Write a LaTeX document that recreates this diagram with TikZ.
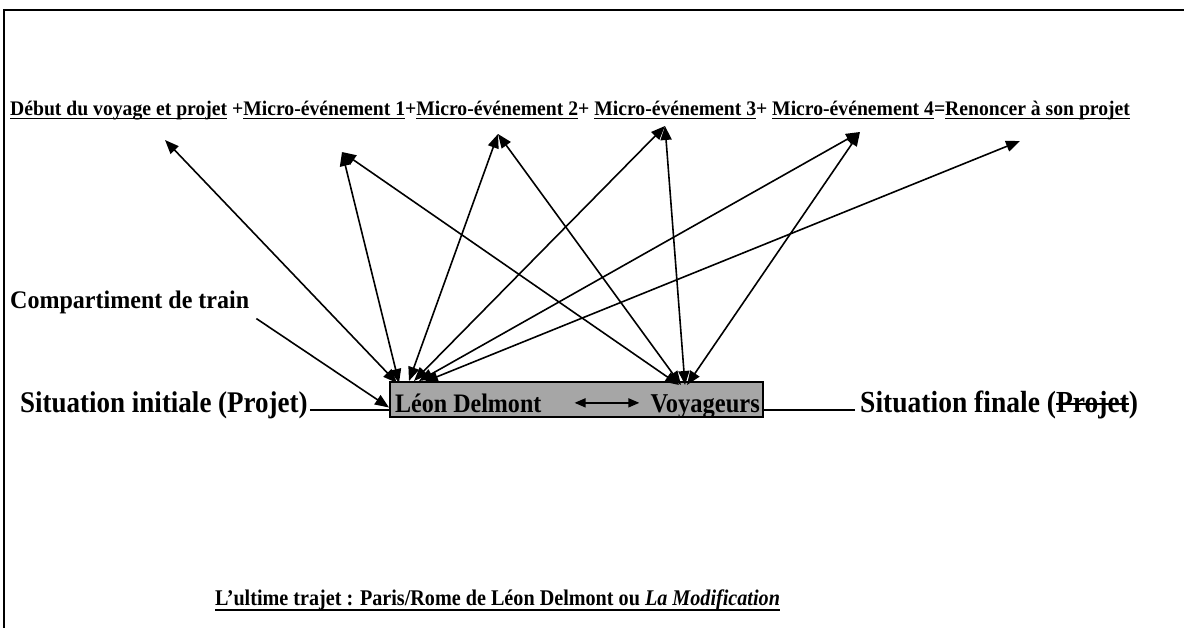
\documentclass[tikz,border=0pt]{standalone}
\usepackage{fontspec}
\setmainfont{Liberation Serif}
\newfontfamily\narrowa[FakeStretch=0.95]{Liberation Serif}
\newfontfamily\narrowb[FakeStretch=0.9]{Liberation Serif}
\usetikzlibrary{arrows.meta}
\definecolor{boxgray}{RGB}{166,166,166}
\tikzset{link/.style={line width=1.6pt, {Triangle[length=14pt,width=11pt]}-{Triangle[length=14pt,width=11pt]}}}
\tikzset{tolink/.style={line width=1.6pt, -{Triangle[length=14pt,width=11pt]}}}
\tikzset{pairlink/.style={line width=1.6pt, {Triangle[length=11pt,width=9pt]}-{Triangle[length=11pt,width=9pt]}}}
\tikzset{label/.style={inner sep=0pt, anchor=base west}}
\newcommand{\ulword}[1]{\setbox0\hbox{#1}\rlap{\rule[-0.15em]{\wd0}{0.065em}}\box0\relax}
\newcommand{\ultitle}[1]{\setbox0\hbox{#1}\rlap{\rule[-0.27em]{\wd0}{0.1em}}\box0\relax}
\newcommand{\strikeword}[1]{\setbox0\hbox{#1}\rlap{\rule[0.27em]{\wd0}{0.06em}}\box0\relax}

\begin{document}
\begin{tikzpicture}[x=1pt, y=-1pt]
            \useasboundingbox (0,0) rectangle (1184,628);
            \draw[line width=2pt] (4,628) -- (4,10) -- (1184,10);
            \node[label, font=\narrowa\bfseries\fontsize{20.7}{23}\selectfont] (plot) at (10,116) {\ulword{Début du voyage et projet} +\ulword{Micro-événement 1}+\ulword{Micro-événement 2}+ \ulword{Micro-événement 3}+ \ulword{Micro-événement 4}=\ulword{Renoncer à son projet}};
            \coordinate (debut) at (165,140);
            \coordinate (micro1) at (342,152);
            \coordinate (micro2) at (498,134);
            \coordinate (micro3) at (665,126);
            \coordinate (micro4) at (860,132);
            \coordinate (renoncer) at (1020,141);
            \node[label, font=\narrowa\bfseries\fontsize{25.3}{28}\selectfont] (comp) at (10,309) {Compartiment de train};
            \node[draw, line width=2pt, fill=boxgray, minimum width=373pt, minimum height=35pt, inner sep=0pt] (box) at (576.5,399.5) {};
            \node[label, font=\narrowb\bfseries\fontsize{26.7}{29}\selectfont] (leon) at (395,412) {Léon Delmont};
            \node[label, anchor=base east, font=\narrowb\bfseries\fontsize{27.2}{29}\selectfont] (voy) at (760,412) {Voyageurs};
            \node[label, font=\narrowb\bfseries\fontsize{30}{33}\selectfont] (init) at (20,413) {Situation initiale (Projet)};
            \node[label, font=\narrowb\bfseries\fontsize{30.6}{33}\selectfont] (fin) at (860,413) {Situation finale (\strikeword{Projet})};
            \node[label, font=\narrowb\bfseries\fontsize{22.4}{25}\selectfont] (title) at (215,605) {\ultitle{L’ultime trajet : Paris/Rome de Léon Delmont ou \textit{La Modification}}};
            \coordinate (l1) at ([shift={(8,2)}]box.north west);
            \coordinate (l2) at ([shift={(10,2)}]box.north west);
            \coordinate (l3) at ([shift={(20,0)}]box.north west);
            \coordinate (l4) at ([shift={(25,0)}]box.north west);
            \coordinate (l5) at ([shift={(30,0)}]box.north west);
            \coordinate (l6) at ([shift={(35,1)}]box.north west);
            \coordinate (v1) at ([shift={(290,4)}]box.north west);
            \coordinate (v2) at ([shift={(292,4)}]box.north west);
            \coordinate (v3) at ([shift={(296,4)}]box.north west);
            \coordinate (v4) at ([shift={(298,4)}]box.north west);
            \draw[link] (l1) -- (debut);
            \draw[link] (l2) -- (micro1);
            \draw[link] (l3) -- (micro2);
            \draw[link] (l4) -- (micro3);
            \draw[link] (l5) -- (micro4);
            \draw[link] (l6) -- (renoncer);
            \draw[link] (v1) -- (micro1);
            \draw[link] (v2) -- (micro2);
            \draw[link] (v3) -- (micro3);
            \draw[link] (v4) -- (micro4);
            \draw[tolink] ([shift={(7,4)}]comp.south east) -- ([yshift=-8pt]box.west);
            \draw[pairlink] ([xshift=33pt]leon.east) -- ([xshift=-11pt]voy.west |- leon.east);
            \draw[line width=1.8pt] ([shift={(2,-3)}]init.base east) coordinate (initend) -- (initend -| box.west);
            \draw[line width=1.8pt] ([shift={(-5,-3)}]fin.base west) coordinate (finstart) -- (finstart -| box.east);
        \end{tikzpicture}
\end{document}
